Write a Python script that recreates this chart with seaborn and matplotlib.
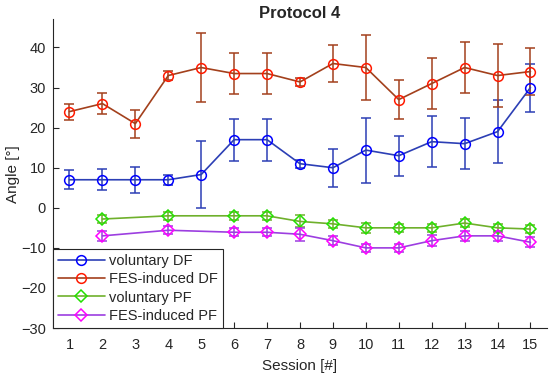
import numpy as np
import pandas as pd
import matplotlib
matplotlib.use('Agg')
import matplotlib.pyplot as plt
import seaborn as sns

# ── Data ───────────────────────────────────────────────────────────
sessions_df = [1, 2, 3, 4, 5, 6, 7, 8, 9, 10, 11, 12, 13, 14, 15]
vol_df      = [7, 7, 7, 7, 8.3, 17, 17, 11, 10, 14.4, 13, 16.5, 16, 19, 30]
vol_df_err  = [2.4, 2.6, 3.3, 1.2, 8.4, 5.2, 5.2, 1, 4.7, 8.1, 5, 6.3, 6.3, 7.8, 6]
fes_df      = [24, 26, 21, 33, 35, 33.5, 33.5, 31.4, 36, 35, 27, 31, 35, 33, 34]
fes_df_err  = [2, 2.7, 3.5, 1.2, 8.5, 5.2, 5.2, 1, 4.7, 8, 4.8, 6.3, 6.3, 7.8, 5.9]

sessions_pf = [2, 4, 6, 7, 8, 9, 10, 11, 12, 13, 14, 15]
vol_pf      = [-2.8, -2, -2, -2, -3.4, -4, -5, -5, -5, -3.8, -5, -5.3]
vol_pf_err  = [1, 1, 1, 1, 1.5, 1, 1.2, 1, 1, 1, 1, 1]
fes_pf      = [-7, -5.6, -6.1, -6.1, -6.6, -8.2, -10, -10, -8.2, -7, -7, -8.6]
fes_pf_err  = [1.2, 1, 1, 1, 1.6, 1.2, 1, 1, 1.3, 1.2, 1.3, 1.2]

series = [
    # label, x, y, err, line colour, marker colour, marker
    ('voluntary DF',   sessions_df, vol_df, vol_df_err, '#2c3fb5', '#0000ff', 'o'),
    ('FES-induced DF', sessions_df, fes_df, fes_df_err, '#a3401c', '#ff1a00', 'o'),
    ('voluntary PF',   sessions_pf, vol_pf, vol_pf_err, '#6fb02c', '#22e000', 'D'),
    ('FES-induced PF', sessions_pf, fes_pf, fes_pf_err, '#9c3ee0', '#ff00ff', 'D'),
]

sns.set_theme(style='white')
plt.rcParams['font.family'] = ['Liberation Sans', 'DejaVu Sans']

fig = plt.figure(figsize=(5.5, 3.81), dpi=100)
ax = fig.add_axes([0.0964, 0.139, 0.898, 0.81])

for label, x, y, err, lc, mc, mk in series:
    df = pd.DataFrame({'Session': x, 'Angle': y})
    ax.errorbar(x, y, yerr=err, fmt='none', ecolor=lc, elinewidth=1.1,
                capsize=3.8, capthick=1.1, zorder=2)
    sns.lineplot(data=df, x='Session', y='Angle', ax=ax, color=lc, lw=1.2,
                 marker=mk, markersize=7 if mk == 'o' else 6,
                 markerfacecolor='none', markeredgecolor=mc,
                 markeredgewidth=1.1, label=label, zorder=3)

ax.set_xlim(0.5, 15.5)
ax.set_ylim(-30, 47)
ax.set_xticks(range(1, 16))
ax.set_yticks(range(-30, 41, 10))
ax.tick_params(direction='in', length=4, width=0.8, colors='#262626',
               labelsize=10.5, bottom=True, left=True)
ax.tick_params(axis='x', pad=7)
ax.tick_params(axis='y', pad=5)
for side in ['top', 'right']:
    ax.spines[side].set_visible(False)
for side in ['left', 'bottom']:
    ax.spines[side].set_color('#262626')
    ax.spines[side].set_linewidth(0.8)

ax.set_xlabel('Session [#]', fontsize=11, color='#262626', labelpad=5)
ax.set_ylabel('Angle [°]', fontsize=11, color='#262626', labelpad=1)
ax.set_title('Protocol 4', fontsize=12, fontweight='bold', pad=1)

leg = ax.legend(loc='lower left', bbox_to_anchor=(0, 0), borderaxespad=0,
                fontsize=10.5, handlelength=3.2, handletextpad=0.3,
                labelspacing=0.3, fancybox=False, framealpha=1,
                edgecolor='#262626', borderpad=0.35)
leg.get_frame().set_linewidth(0.8)

plt.savefig('out.png', dpi=100)
